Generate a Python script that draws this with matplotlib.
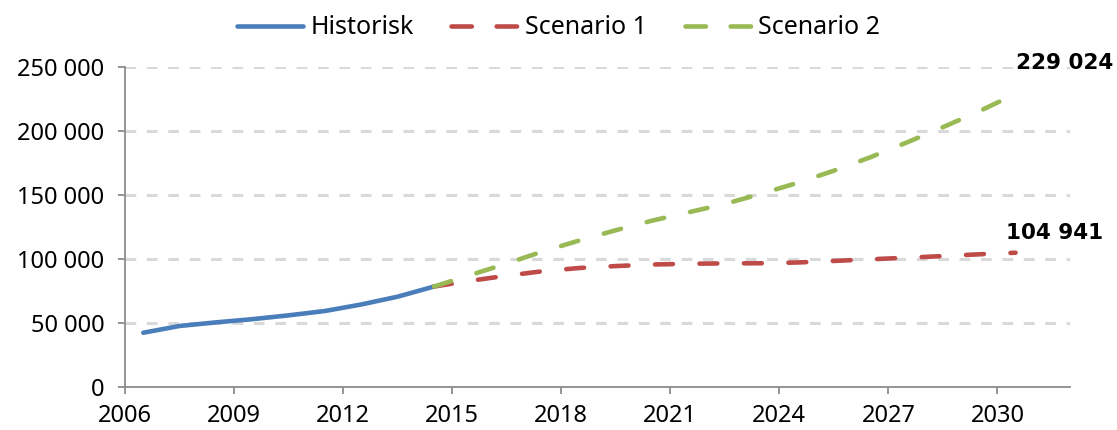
import numpy as np
import matplotlib
matplotlib.use("Agg")
import matplotlib.pyplot as plt
from matplotlib.lines import Line2D
from matplotlib.ticker import FuncFormatter

# data: one value per year, drawn at mid-category (year + 0.5)
hist_years = list(range(2006, 2015))
hist_vals = [42400, 47700, 50500, 53000, 56000, 59400, 64500, 70600, 78500]

scen_years = list(range(2014, 2031))
scen1_vals = [78500, 83000, 87000, 90500, 93000, 94500, 95700, 96300, 96600,
              96700, 97300, 98500, 99800, 101000, 102300, 103700, 104941]
scen2_vals = [78500, 87500, 96500, 106000, 114500, 122500, 130000, 136500, 143000,
              151000, 159500, 169000, 179500, 191000, 203000, 215500, 229024]

labels = ['Historisk', 'Scenario 1', 'Scenario 2']
xticks = list(range(2006, 2031, 3))
yticks = [0, 50000, 100000, 150000, 200000, 250000]

c_hist = "#4a7ebb"
c_s1 = "#be4b48"
c_s2 = "#98b954"
c_axis = "#8c8c8c"

plt.rcParams['font.family'] = ['Noto Sans', 'DejaVu Sans']


def main():
    fig = plt.figure(figsize=(11.17, 4.30), dpi=100)
    ax = fig.add_axes([0.112, 0.1, 0.846, 0.744])

    hx = np.array(hist_years) + 0.5
    sx = np.array(scen_years) + 0.5

    ax.plot(sx, scen1_vals, color=c_s1, lw=3.3, ls=(0, (3.9, 5.8)),
            dash_capstyle='round', zorder=3)
    ax.plot(sx, scen2_vals, color=c_s2, lw=3.3, ls=(0, (3.9, 5.8)),
            dash_capstyle='round', zorder=4)
    ax.plot(hx, hist_vals, color=c_hist, lw=3.3, solid_capstyle='round', zorder=2)

    bold = dict(family='DejaVu Sans', fontsize=15.5, fontweight='bold')
    ax.annotate("229 024", (sx[-1], scen2_vals[-1]), xytext=(35, 22),
                textcoords='offset points', ha='center', va='center',
                annotation_clip=False, **bold)
    ax.annotate("104 941", (sx[-1], scen1_vals[-1]), xytext=(28, 14),
                textcoords='offset points', ha='center', va='center',
                annotation_clip=False, **bold)

    ax.set_xlim(2006, 2032)
    ax.set_ylim(0, 250000)
    ax.set_xticks(xticks)
    ax.set_yticks(yticks)
    ax.yaxis.set_major_formatter(FuncFormatter(lambda v, p: f"{int(v):,}".replace(",", " ")))

    for y in yticks[1:]:
        ax.axhline(y, color="#d9d9d9", lw=2.2, ls=(0, (3.5, 3.5)), zorder=1)

    for s in ['top', 'right']:
        ax.spines[s].set_visible(False)
    for s in ['left', 'bottom']:
        ax.spines[s].set_color(c_axis)
        ax.spines[s].set_linewidth(1.3)
    ax.tick_params(axis='both', direction='out', length=5, width=1.3,
                   color=c_axis, labelsize=17)
    ax.tick_params(axis='x', pad=7)
    ax.tick_params(axis='y', pad=10)

    # legend proxies: two full dashes per dashed handle, as in the original
    handles = [
        Line2D([], [], color=c_hist, lw=3.3, solid_capstyle='round'),
        Line2D([], [], color=c_s1, lw=3.3, ls=(0, (4.45, 5.4)), dash_capstyle='round'),
        Line2D([], [], color=c_s2, lw=3.3, ls=(0, (4.45, 5.4)), dash_capstyle='round'),
    ]
    fig.legend(handles, labels, loc='center',
               bbox_to_anchor=(0.5, 0.935), ncol=3, frameon=False, fontsize=18,
               handlelength=2.65, columnspacing=1.5, handletextpad=0.3)

    plt.savefig("out.png", dpi=100)


if __name__ == "__main__":
    main()
